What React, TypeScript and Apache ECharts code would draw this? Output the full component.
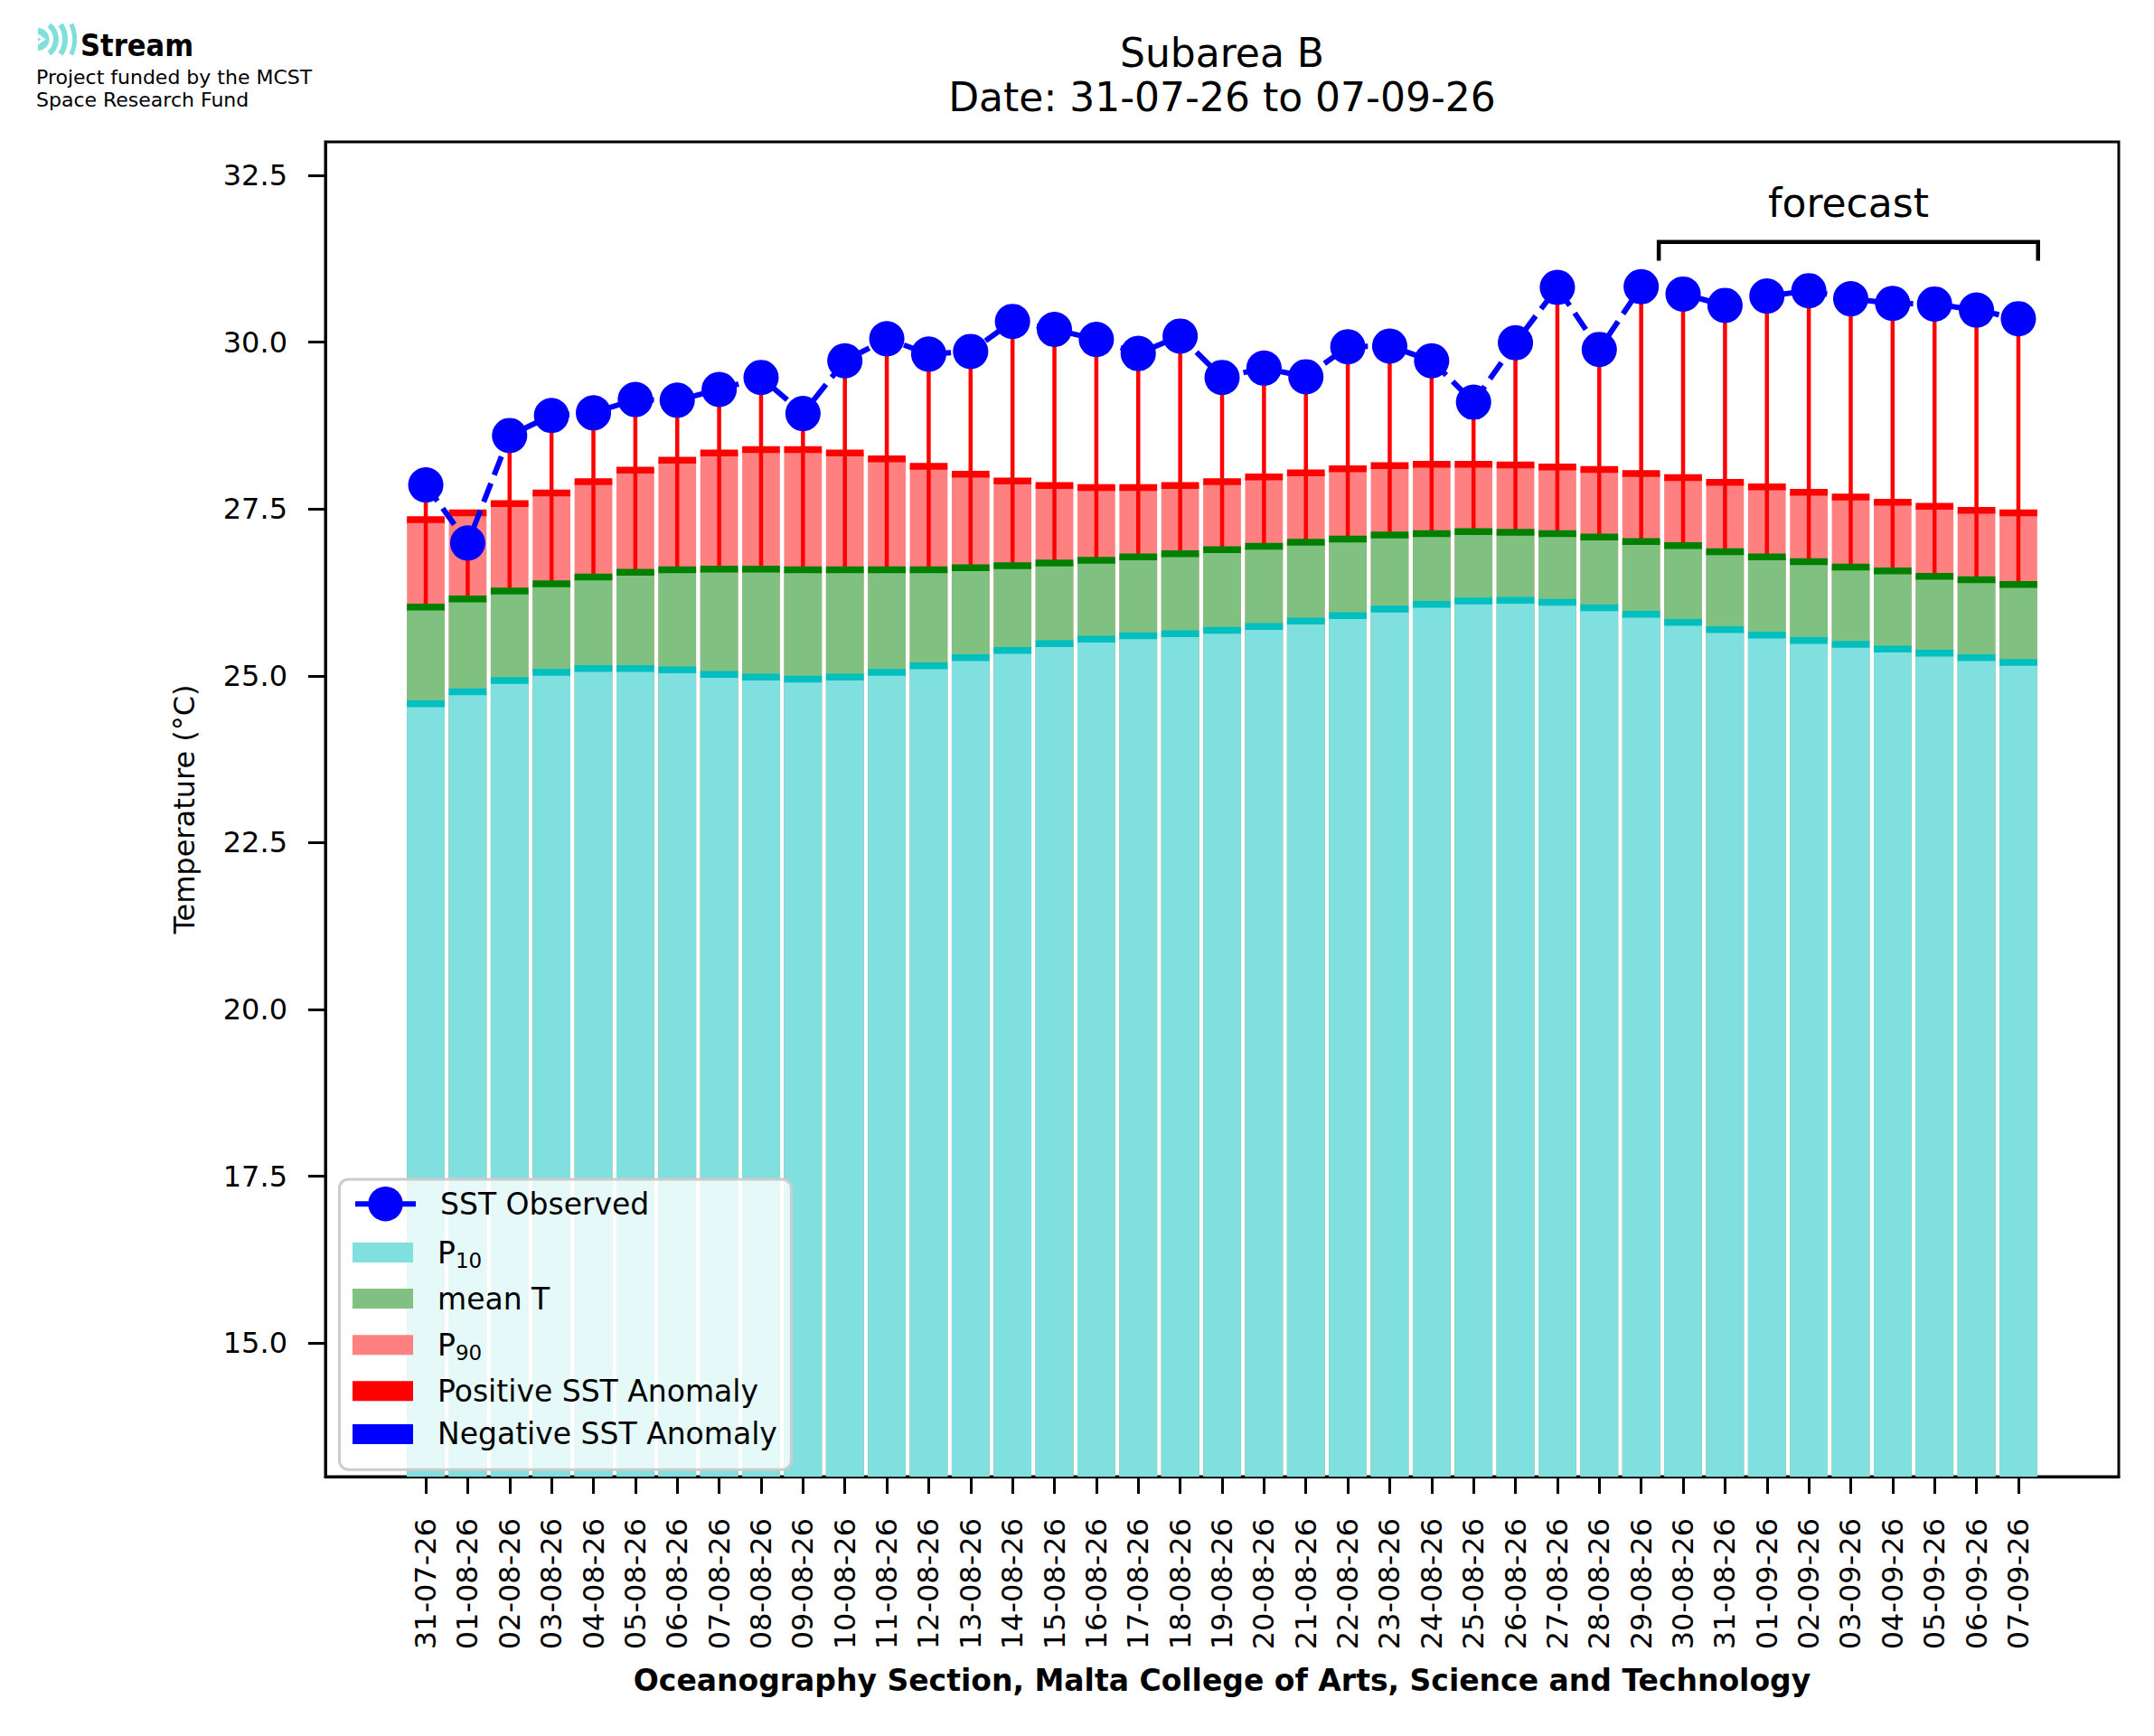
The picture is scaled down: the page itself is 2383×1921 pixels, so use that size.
import React, { useEffect, useRef } from 'react';
import * as echarts from 'echarts';

// x-axis categories (one bar per day)
const DATES = [
  '31-07-26',
  '01-08-26', '02-08-26', '03-08-26', '04-08-26', '05-08-26', '06-08-26', '07-08-26', '08-08-26', '09-08-26', '10-08-26',
  '11-08-26', '12-08-26', '13-08-26', '14-08-26', '15-08-26', '16-08-26', '17-08-26', '18-08-26', '19-08-26', '20-08-26',
  '21-08-26', '22-08-26', '23-08-26', '24-08-26', '25-08-26', '26-08-26', '27-08-26', '28-08-26', '29-08-26', '30-08-26', '31-08-26',
  '01-09-26', '02-09-26', '03-09-26', '04-09-26', '05-09-26', '06-09-26', '07-09-26'
];

const SST_OBS = [
  27.86, 26.99, 28.60, 28.90, 28.94, 29.14, 29.13, 29.29, 29.47, 28.93,
  29.72, 30.05, 29.82, 29.86, 30.31, 30.19, 30.04, 29.83, 30.09, 29.47,
  29.61, 29.48, 29.93, 29.94, 29.72, 29.10, 29.99, 30.82, 29.89, 30.83,
  30.72, 30.55, 30.69, 30.77, 30.65, 30.58, 30.57, 30.48, 30.35
];

const P90 = [
  27.34, 27.44, 27.58, 27.74, 27.91, 28.08, 28.23, 28.34, 28.39, 28.39,
  28.34, 28.25, 28.14, 28.02, 27.92, 27.85, 27.82, 27.82, 27.85, 27.91,
  27.98, 28.04, 28.10, 28.15, 28.17, 28.17, 28.16, 28.13, 28.09, 28.03,
  27.97, 27.90, 27.83, 27.75, 27.68, 27.60, 27.54, 27.48, 27.44
];

const MEAN_T = [
  26.03, 26.15, 26.27, 26.38, 26.48, 26.55, 26.59, 26.60, 26.60, 26.59,
  26.59, 26.59, 26.59, 26.62, 26.65, 26.69, 26.73, 26.78, 26.83, 26.89,
  26.94, 27.00, 27.05, 27.11, 27.13, 27.16, 27.15, 27.13, 27.08, 27.01,
  26.95, 26.86, 26.78, 26.71, 26.63, 26.57, 26.49, 26.44, 26.37
];

const P10 = [
  24.58, 24.76, 24.93, 25.05, 25.11, 25.11, 25.09, 25.02, 24.98, 24.95,
  24.98, 25.05, 25.15, 25.27, 25.38, 25.48, 25.55, 25.60, 25.63, 25.68,
  25.74, 25.82, 25.90, 26.00, 26.07, 26.12, 26.13, 26.10, 26.02, 25.92,
  25.80, 25.69, 25.61, 25.53, 25.47, 25.40, 25.34, 25.27, 25.20
];

const Y_TICKS = [15, 17.5, 20, 22.5, 25, 27.5, 30, 32.5];

// forecast bracket, in data units
const FORECAST_FROM = 29.42;
const FORECAST_TO = 38.47;
const FORECAST_Y = 31.5;
const FORECAST_TICK_Y = 31.22;
const FORECAST_LABEL_Y = 32.08;

const FONT = 'DejaVu Sans';
const STRIP = 7.5;

const legendLabel = (name: string) => {
  if (name === 'P₁₀') return '{b|P}{s|10}';
  if (name === 'P₉₀') return '{b|P}{s|90}';
  return name;
};

const App: React.FC = () => {
  const chartRef = useRef<HTMLDivElement>(null);

  useEffect(() => {
    if (!chartRef.current) return;
    const chart = echarts.init(chartRef.current, null, { renderer: 'svg' });

    const idx = DATES.map((_, i) => i);
    const pairs = (arr: number[]) => arr.map((v, i) => [i, v]);
    const levels = idx.map(i => [i, P10[i], MEAN_T[i], P90[i]]);
    const anomalies = idx.map(i => [i, MEAN_T[i], SST_OBS[i]]);
    const positive = anomalies.filter(d => d[2] >= d[1]);
    const negative = anomalies.filter(d => d[2] < d[1]);

    const anomalyLine = (color: string) => (params: any, api: any) => {
      const a = api.coord([api.value(0), api.value(1)]);
      const b = api.coord([api.value(0), api.value(2)]);
      return {
        type: 'line',
        shape: { x1: a[0], y1: a[1], x2: b[0], y2: b[1] },
        style: { stroke: color, lineWidth: 4.5 }
      };
    };

    const bar = (name: string, data: number[], color: string) => ({
      name,
      type: 'bar',
      data: pairs(data),
      barWidth: '90%',
      barGap: '-100%',
      itemStyle: { color },
      z: 2
    });

    const option = {
      animation: false,
      backgroundColor: '#ffffff',
      textStyle: { fontFamily: FONT, color: '#000' },
      title: {
        text: 'Subarea B\nDate: 31-07-26 to 07-09-26',
        left: 1352,
        top: 33.4,
        textAlign: 'center',
        padding: 0,
        textStyle: { fontFamily: FONT, fontSize: 44, fontWeight: 'normal', color: '#000', lineHeight: 49.4 }
      },
      grid: {
        left: 360,
        top: 157,
        right: 39,
        bottom: 287,
        containLabel: false,
        outerBoundsMode: 'none',
        show: true,
        borderColor: '#000',
        borderWidth: 3,
        backgroundColor: 'transparent'
      },
      xAxis: {
        type: 'value',
        min: -2.395,
        max: 40.395,
        splitLine: { show: false },
        axisLine: { show: true, onZero: false, lineStyle: { color: '#000', width: 3 } },
        axisTick: { show: true, customValues: idx, length: 19, lineStyle: { color: '#000', width: 3 } },
        axisLabel: {
          customValues: idx,
          formatter: (v: number) => DATES[Math.round(v)] ?? '',
          rotate: 90,
          margin: 46,
          fontSize: 32,
          color: '#000',
          fontFamily: FONT
        },
        name: 'Oceanography Section, Malta College of Arts, Science and Technology',
        nameLocation: 'middle',
        nameGap: 209,
        nameTextStyle: { fontFamily: FONT, fontSize: 33, fontWeight: 'bold', color: '#000' }
      },
      yAxis: {
        type: 'value',
        min: 13,
        max: 33,
        splitLine: { show: false },
        axisLine: { show: true, onZero: false, lineStyle: { color: '#000', width: 3 } },
        axisTick: { show: true, customValues: Y_TICKS, length: 19, lineStyle: { color: '#000', width: 3 } },
        axisLabel: {
          customValues: Y_TICKS,
          formatter: (v: number) => v.toFixed(1),
          margin: 42,
          fontSize: 32,
          color: '#000',
          fontFamily: FONT
        },
        name: 'Temperature (°C)',
        nameLocation: 'middle',
        nameGap: 140,
        nameTextStyle: { fontFamily: FONT, fontSize: 32, color: '#000' }
      },
      legend: [
        {
          data: ['SST Observed'],
          orient: 'vertical',
          left: 390,
          top: 1313,
          padding: 0,
          itemWidth: 67,
          itemHeight: 48,
          selectedMode: false,
          z: 20,
          lineStyle: { type: 'solid', width: 6 },
          textStyle: { fontFamily: FONT, fontSize: 33, color: '#000', padding: [0, 0, 0, 22] }
        },
        {
          data: ['P₁₀', 'mean T', 'P₉₀', 'Positive SST Anomaly', 'Negative SST Anomaly'],
          orient: 'vertical',
          left: 375.5,
          top: 1305,
          padding: [61, 15.5, 22.8, 14.5],
          itemWidth: 67,
          itemHeight: 22,
          itemGap: 14.6,
          icon: 'rect',
          selectedMode: false,
          z: 15,
          backgroundColor: 'rgba(255,255,255,0.8)',
          borderColor: '#cccccc',
          borderWidth: 3,
          borderRadius: 10,
          formatter: legendLabel,
          textStyle: {
            fontFamily: FONT,
            fontSize: 33,
            color: '#000',
            padding: [0, 0, 0, 22],
            rich: {
              b: { fontFamily: FONT, fontSize: 33, lineHeight: 33, color: '#000' },
              s: { fontFamily: FONT, fontSize: 23, lineHeight: 33, color: '#000', padding: [17, 0, 0, 0] }
            }
          }
        }
      ],
      series: [
        bar('P₉₀', P90, '#ff8080'),
        bar('mean T', MEAN_T, '#80c080'),
        bar('P₁₀', P10, '#80dfdf'),
        {
          name: 'Positive SST Anomaly',
          type: 'custom',
          data: positive,
          encode: { x: 0, y: [1, 2] },
          itemStyle: { color: '#ff0000' },
          renderItem: anomalyLine('#ff0000'),
          z: 3
        },
        {
          name: 'Negative SST Anomaly',
          type: 'custom',
          data: negative,
          encode: { x: 0, y: [1, 2] },
          itemStyle: { color: '#0000ff' },
          renderItem: anomalyLine('#0000ff'),
          z: 3
        },
        {
          type: 'custom',
          data: levels,
          encode: { x: 0, y: [1, 2, 3] },
          z: 4,
          renderItem: (params: any, api: any) => {
            const i = api.value(0);
            const w = api.size([0.9, 0])[0];
            const strip = (v: number, fill: string) => {
              const c = api.coord([i, v]);
              return {
                type: 'rect',
                shape: { x: c[0] - w / 2, y: c[1] - STRIP / 2, width: w, height: STRIP },
                style: { fill }
              };
            };
            return {
              type: 'group',
              children: [
                strip(api.value(1), '#00bfbf'),
                strip(api.value(2), '#008000'),
                strip(api.value(3), '#ff0000')
              ]
            };
          }
        },
        {
          name: 'SST Observed',
          type: 'line',
          data: pairs(SST_OBS),
          symbol: 'circle',
          symbolSize: 39,
          itemStyle: { color: '#0000ff' },
          lineStyle: { color: '#0000ff', width: 6, type: [22, 10] },
          z: 6
        },
        {
          type: 'custom',
          data: [[FORECAST_FROM, FORECAST_Y]],
          encode: { x: 0, y: 1 },
          z: 6,
          renderItem: (params: any, api: any) => {
            const a = api.coord([FORECAST_FROM, FORECAST_TICK_Y]);
            const b = api.coord([FORECAST_FROM, FORECAST_Y]);
            const c = api.coord([FORECAST_TO, FORECAST_Y]);
            const d = api.coord([FORECAST_TO, FORECAST_TICK_Y]);
            const t = api.coord([(FORECAST_FROM + FORECAST_TO) / 2, FORECAST_LABEL_Y]);
            return {
              type: 'group',
              children: [
                {
                  type: 'polyline',
                  shape: { points: [a, b, c, d] },
                  style: { stroke: '#000', lineWidth: 4.5, fill: 'none' }
                },
                {
                  type: 'text',
                  x: t[0],
                  y: t[1],
                  style: {
                    text: 'forecast',
                    fontFamily: FONT,
                    fontSize: 44,
                    fill: '#000',
                    align: 'center',
                    verticalAlign: 'middle'
                  }
                }
              ]
            };
          }
        }
      ],
      graphic: [
        // logo mark
        { type: 'sector', shape: { cx: 42, cy: 43.5, r: 12.5, r0: 0, startAngle: -Math.PI / 2, endAngle: Math.PI / 2 }, style: { fill: '#80dfdb' } },
        { type: 'polyline', shape: { points: [[41, 38.5], [48, 43.5], [41, 48.5]] }, style: { stroke: '#ffffff', lineWidth: 3, fill: 'none' } },
        { type: 'sector', shape: { cx: 42, cy: 43.5, r: 23, r0: 17, startAngle: -0.9, endAngle: 0.9 }, style: { fill: '#80dfdb' } },
        { type: 'sector', shape: { cx: 42, cy: 43.5, r: 33, r0: 27, startAngle: -0.58, endAngle: 0.58 }, style: { fill: '#80dfdb' } },
        { type: 'sector', shape: { cx: 42, cy: 43.5, r: 43, r0: 38, startAngle: -0.43, endAngle: 0.43 }, style: { fill: '#80dfdb' } },
        {
          type: 'text', x: 89, y: 50,
          style: { text: 'Stream', fontFamily: 'DejaVu Sans Condensed, DejaVu Sans', fontWeight: 'bold', fontSize: 34, fill: '#000', verticalAlign: 'middle' }
        },
        {
          type: 'text', x: 40, y: 85.4,
          style: { text: 'Project funded by the MCST', fontFamily: FONT, fontSize: 22, fill: '#000', verticalAlign: 'middle' }
        },
        {
          type: 'text', x: 40, y: 110.4,
          style: { text: 'Space Research Fund', fontFamily: FONT, fontSize: 22, fill: '#000', verticalAlign: 'middle' }
        }
      ]
    };

    chart.setOption(option as any);

    return () => {
      chart.dispose();
    };
  }, []);

  return <div ref={chartRef} style={{ position: 'absolute', left: 0, top: 0, width: 2383, height: 1921 }} />;
};

export default App;
